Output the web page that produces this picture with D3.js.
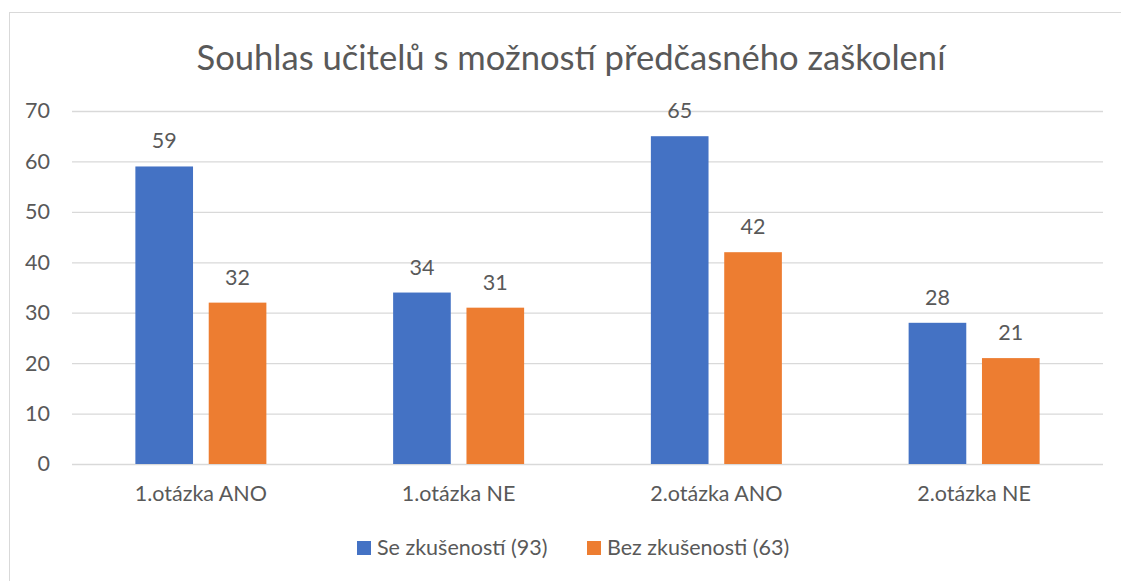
<!DOCTYPE html>
<html>
<head>
<meta charset="utf-8">
<script src="https://cdn.jsdelivr.net/npm/d3@7"></script>
<style>
  html, body { margin: 0; padding: 0; background: #fff; }
  svg { display: block; font-family: Lato, "Open Sans", sans-serif; }
</style>
</head>
<body>
<div id="chart"></div>
<script>
// Data.
const categories = ['1.otázka ANO', '1.otázka NE', '2.otázka ANO', '2.otázka NE'];
const seriesNames = ['Se zkušeností (93)', 'Bez zkušenosti (63)'];
const withExperience = [59, 34, 65, 28];
const withoutExperience = [32, 31, 42, 21];
const yTicks = [0, 10, 20, 30, 40, 50, 60, 70];
const title = 'Souhlas učitelů s možností předčasného zaškolení';

const colors = ['#4472C4', '#ED7D31'];
const textColor = '#595959';
const gridColor = '#d9d9d9';

const width = 1121;
const height = 581;
const margin = {top: 111, right: 18, bottom: 117, left: 72};
const groupWidth = 131; // both bars of a category together

const svg = d3.select('#chart').append('svg')
  .attr('width', width)
  .attr('height', height);

// chart frame (cut off at right and bottom in the picture)
svg.append('rect')
  .attr('x', 9.5).attr('y', 12.5)
  .attr('width', 1130).attr('height', 600)
  .attr('fill', 'none')
  .attr('stroke', gridColor);

svg.append('text')
  .attr('x', 571).attr('y', 70)
  .attr('text-anchor', 'middle')
  .attr('fill', textColor)
  .style('font-size', '34.6px')
  .text(title);

const x0 = d3.scaleBand()
  .domain(categories)
  .range([margin.left, width - margin.right]);

const x1 = d3.scaleBand()
  .domain(seriesNames)
  .range([(x0.bandwidth() - groupWidth) / 2, (x0.bandwidth() + groupWidth) / 2])
  .paddingInner(0.214);

const y = d3.scaleLinear()
  .domain([0, 70])
  .range([height - margin.bottom, margin.top]);

// grid
const yAxis = d3.axisLeft(y)
  .tickValues(yTicks)
  .tickSize(-(width - margin.right - margin.left))
  .tickPadding(22);

const gy = svg.append('g')
  .attr('transform', `translate(${margin.left},0)`)
  .call(yAxis);
gy.select('.domain').remove();
gy.selectAll('.tick line').attr('stroke', gridColor).attr('stroke-width', 1.3);
gy.selectAll('.tick text')
  .attr('fill', textColor)
  .style('font-size', '21.5px')
  .style('font-family', 'Lato, sans-serif');

const series = [withExperience, withoutExperience];

const groups = svg.append('g').selectAll('g')
  .data(categories)
  .join('g')
  .attr('transform', (d) => `translate(${x0(d)},0)`);

groups.selectAll('rect')
  .data((d, i) => seriesNames.map((s, j) => ({s, j, v: series[j][i]})))
  .join('rect')
  .attr('x', (d) => x1(d.s))
  .attr('y', (d) => y(d.v))
  .attr('width', x1.bandwidth())
  .attr('height', (d) => y(0) - y(d.v))
  .attr('fill', (d) => colors[d.j]);

groups.selectAll('text.val')
  .data((d, i) => seriesNames.map((s, j) => ({s, j, v: series[j][i]})))
  .join('text')
  .attr('class', 'val')
  .attr('x', (d) => x1(d.s) + x1.bandwidth() / 2)
  .attr('y', (d) => y(d.v) - 18)
  .attr('text-anchor', 'middle')
  .attr('fill', textColor)
  .style('font-size', '21.5px')
  .text((d) => d.v);

// x axis labels
const xAxis = d3.axisBottom(x0).tickSize(0).tickPadding(22);
const gx = svg.append('g')
  .attr('transform', `translate(0,${y(0)})`)
  .call(xAxis);
gx.select('.domain').remove();
gx.selectAll('.tick text')
  .attr('fill', textColor)
  .style('font-size', '21.5px')
  .style('font-family', 'Lato, sans-serif');

// legend
const legendX = [357, 587];
const legend = svg.append('g').selectAll('g')
  .data(seriesNames)
  .join('g')
  .attr('transform', (d, i) => `translate(${legendX[i]},541)`);
legend.append('rect')
  .attr('width', 14).attr('height', 14)
  .attr('fill', (d, i) => colors[i]);
legend.append('text')
  .attr('x', 20).attr('y', 14)
  .attr('fill', textColor)
  .style('font-size', '21.5px')
  .text((d) => d);
</script>
</body>
</html>
